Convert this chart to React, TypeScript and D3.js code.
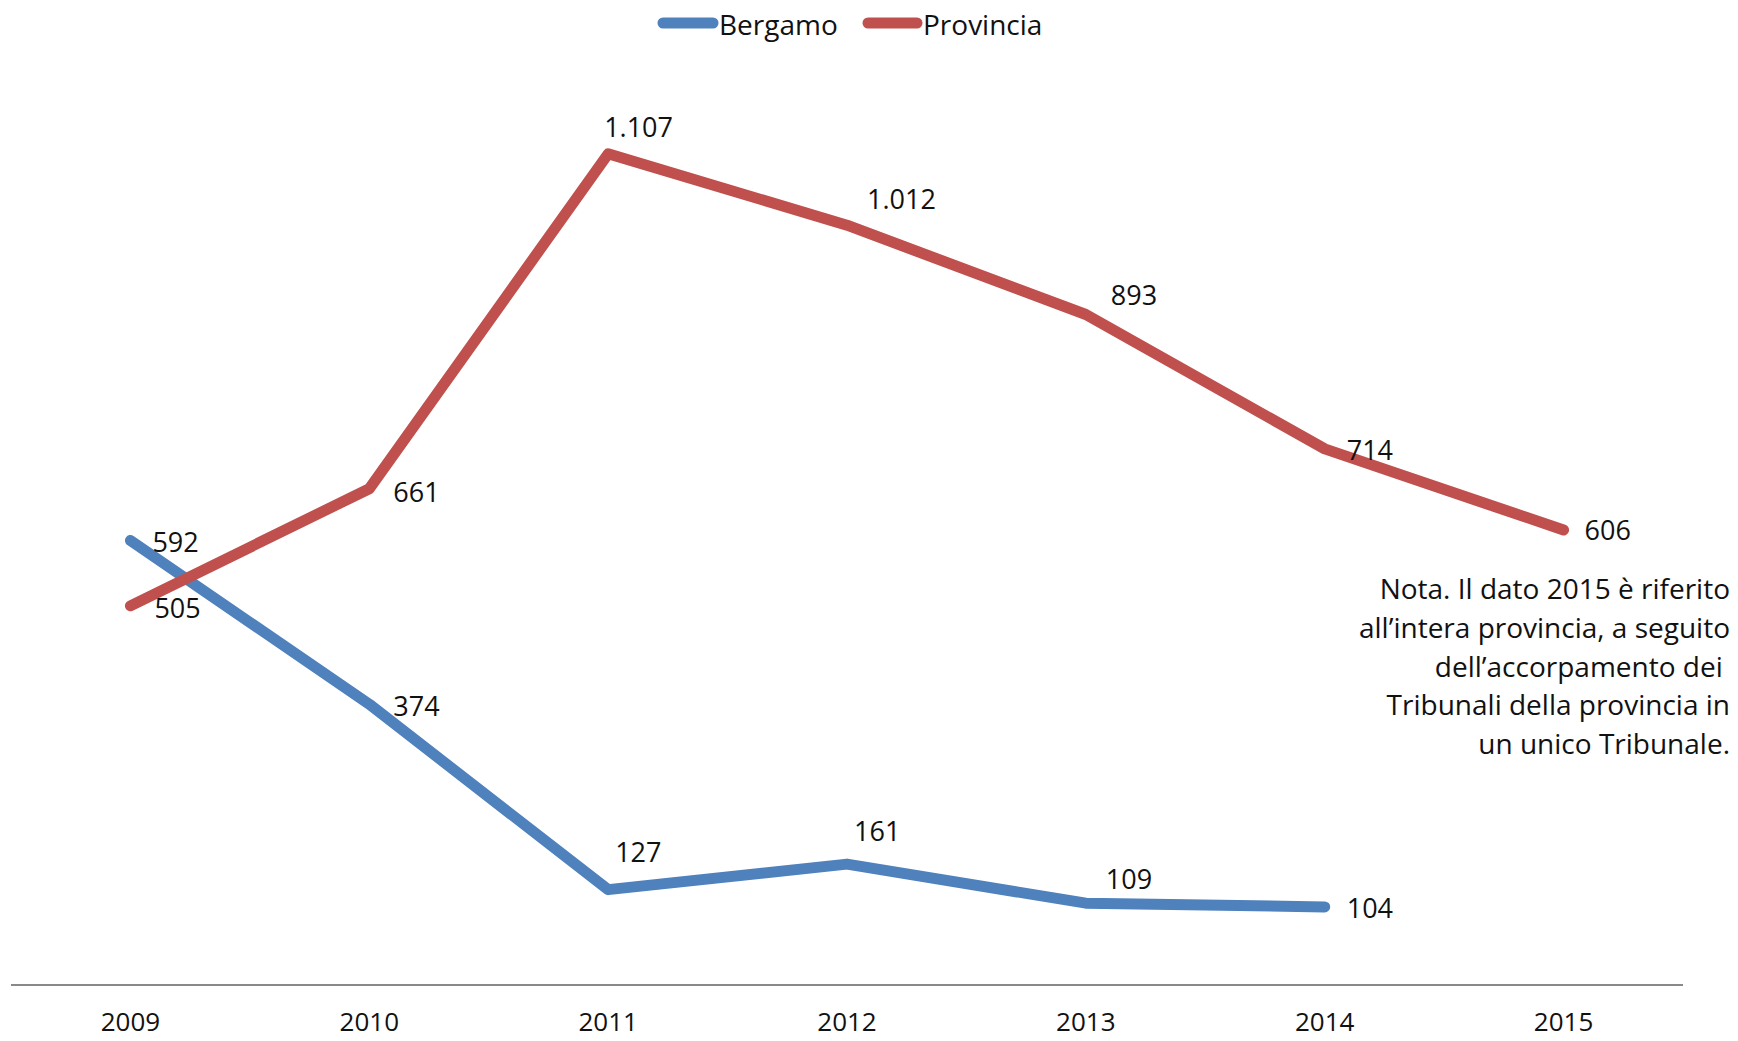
import React, { useEffect, useRef } from "react";
import * as d3 from "d3";

const years = ["2009", "2010", "2011", "2012", "2013", "2014", "2015"];
const bergamo = [592, 374, 127, 161, 109, 104];
const provincia = [505, 661, 1107, 1012, 893, 714, 606];

// manual nudges of the data labels (as moved in the original)
const bergamoLabelNudge = [
  [22, 1],
  [24, 1],
  [7, -38],
  [7, -34],
  [20, -25],
  [22, 1],
];
const provinciaLabelNudge = [
  [24, 2],
  [24, 3],
  [-4, -27],
  [20, -27],
  [25, -20],
  [22, 1],
  [21, 0],
];

const noteLines = [
  "Nota. Il dato 2015 è riferito",
  "all’intera provincia, a seguito",
  "dell’accorpamento dei ",
  "Tribunali della provincia in",
  "un unico Tribunale.",
];

const BLUE = "#4F81BD";
const RED = "#C0504D";
const FONT = "'Open Sans', 'Noto Sans', sans-serif";

const fmt = (v: number) => d3.format(",")(v).replace(/,/g, ".");

const App = () => {
  const ref = useRef<SVGSVGElement>(null);
  const width = 1738;
  const height = 1041;

  useEffect(() => {
    const svg = d3.select(ref.current);
    svg.selectAll("*").remove();

    const x = d3.scalePoint().domain(years).range([11, 1683]).padding(0.5);
    const y = d3.scaleLinear().domain([0, 1200]).range([985, 84]);

    // axis line
    svg
      .append("line")
      .attr("x1", 11)
      .attr("x2", 1683)
      .attr("y1", y(0))
      .attr("y2", y(0))
      .attr("stroke", "#898989")
      .attr("stroke-width", 2);

    svg
      .append("g")
      .selectAll("text")
      .data(years)
      .enter()
      .append("text")
      .attr("x", (d) => x(d)!)
      .attr("y", 1021)
      .attr("text-anchor", "middle")
      .attr("dominant-baseline", "central")
      .attr("font-family", FONT)
      .attr("font-size", 26)
      .attr("fill", "#111")
      .text((d) => d);

    const line = d3
      .line<number>()
      .x((_, i) => x(years[i])!)
      .y((d) => y(d));

    const series = [
      { name: "Bergamo", values: bergamo, color: BLUE, nudge: bergamoLabelNudge },
      { name: "Provincia", values: provincia, color: RED, nudge: provinciaLabelNudge },
    ];

    series.forEach((s) => {
      svg
        .append("path")
        .attr("d", line(s.values))
        .attr("fill", "none")
        .attr("stroke", s.color)
        .attr("stroke-width", 11)
        .attr("stroke-linecap", "round")
        .attr("stroke-linejoin", "round");
    });

    series.forEach((s) => {
      svg
        .append("g")
        .selectAll("text")
        .data(s.values)
        .enter()
        .append("text")
        .attr("x", (_, i) => x(years[i])! + s.nudge[i][0])
        .attr("y", (d, i) => y(d) + s.nudge[i][1])
        .attr("dominant-baseline", "central")
        .attr("font-family", FONT)
        .attr("font-size", 27)
        .attr("fill", "#111")
        .text((d) => fmt(d));
    });

    // legend
    const legend = svg.append("g");
    const items = [
      { name: "Bergamo", color: BLUE, x0: 663, x1: 713, tx: 719 },
      { name: "Provincia", color: RED, x0: 868, x1: 917, tx: 923 },
    ];
    items.forEach((it) => {
      legend
        .append("line")
        .attr("x1", it.x0)
        .attr("x2", it.x1)
        .attr("y1", 23)
        .attr("y2", 23)
        .attr("stroke", it.color)
        .attr("stroke-width", 11)
        .attr("stroke-linecap", "round");
      legend
        .append("text")
        .attr("x", it.tx)
        .attr("y", 24)
        .attr("dominant-baseline", "central")
        .attr("font-family", FONT)
        .attr("font-size", 28)
        .attr("fill", "#111")
        .text(it.name);
    });

    // note
    svg
      .append("g")
      .selectAll("text")
      .data(noteLines)
      .enter()
      .append("text")
      .attr("x", 1730)
      .attr("y", (_, i) => 588 + i * 38.8)
      .attr("text-anchor", "end")
      .attr("dominant-baseline", "central")
      .attr("font-family", FONT)
      .attr("font-size", 28)
      .attr("fill", "#111")
      .attr("xml:space", "preserve")
      .style("white-space", "pre")
      .text((d) => d);
  }, []);

  return (
    <svg
      ref={ref}
      width={width}
      height={height}
      style={{ position: "absolute", left: 0, top: 0, background: "#fff" }}
    />
  );
};

export default App;
